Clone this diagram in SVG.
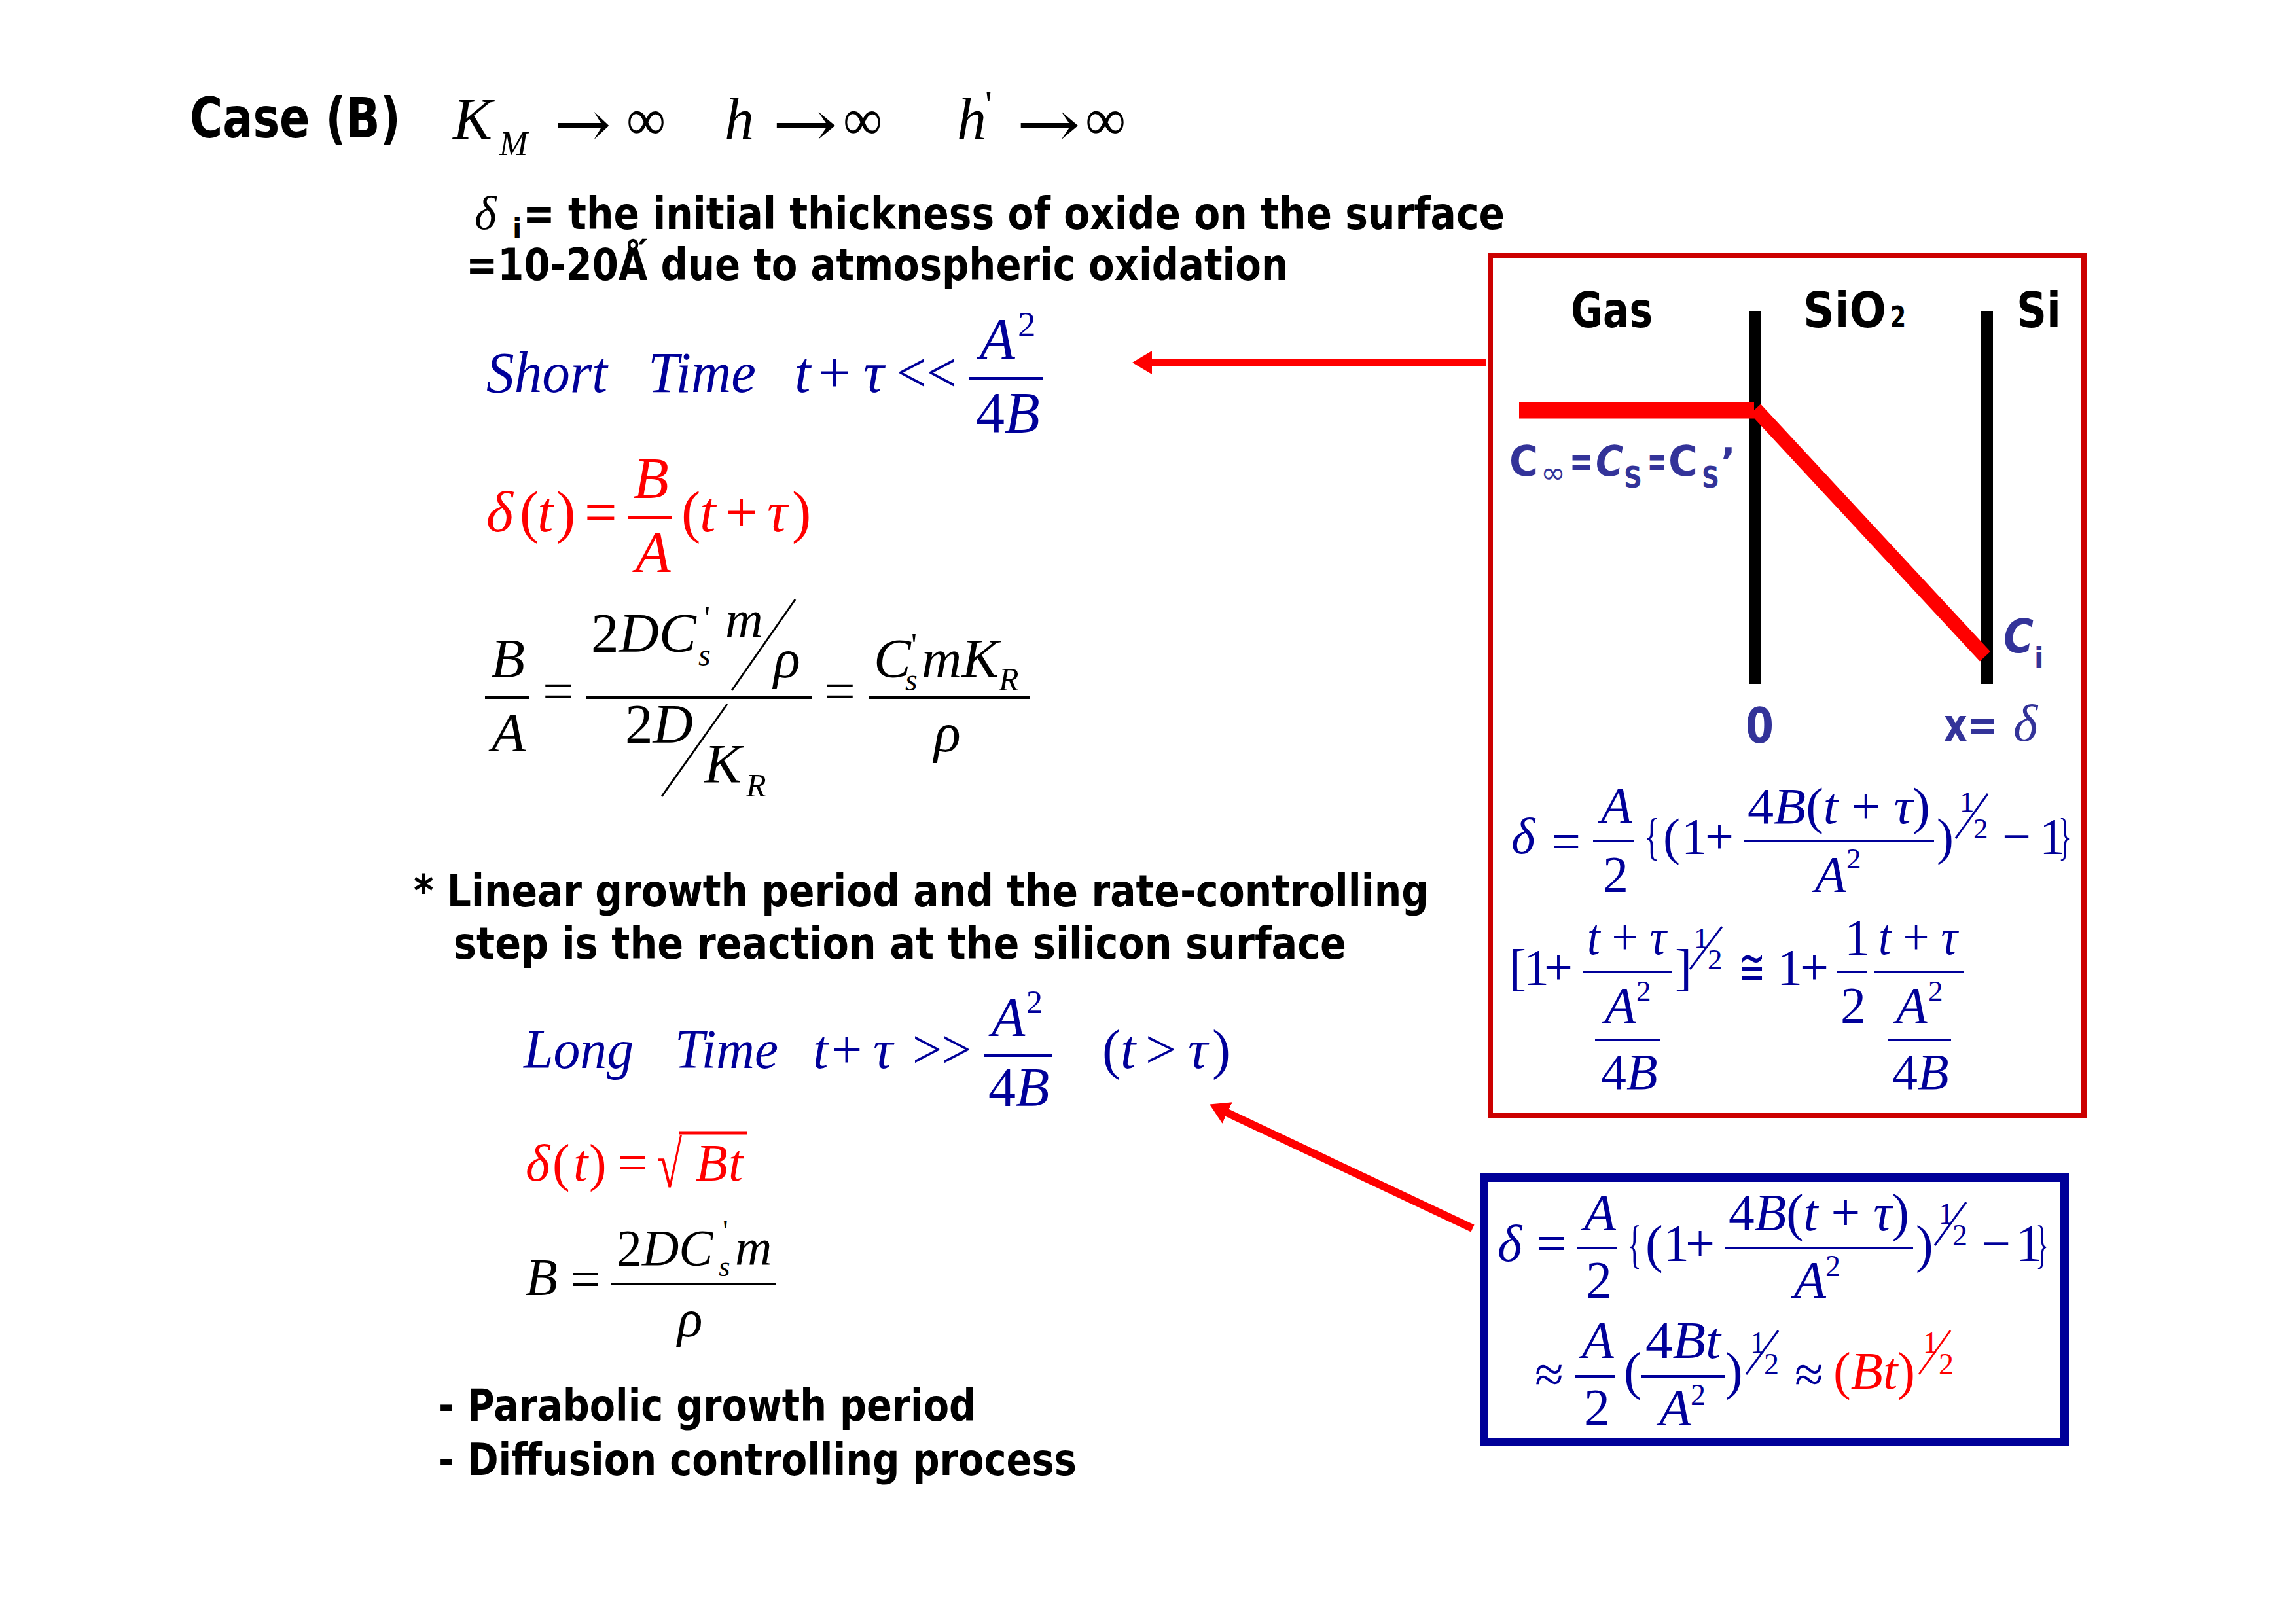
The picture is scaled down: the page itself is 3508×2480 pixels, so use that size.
<svg xmlns="http://www.w3.org/2000/svg" width="3508" height="2480" viewBox="0 0 3508 2480">
<defs>
<style>
.cs{font-family:"DejaVu Sans","Liberation Sans",sans-serif;font-weight:bold}
.m{font-family:"Liberation Serif","Times New Roman","DejaVu Serif",serif}
.ar{font-family:"DejaVu Serif","DejaVu Sans",serif}
.it{font-style:italic}
.nv{fill:#000099}
.rd{fill:#ff0000}
.bk{fill:#000000}
.lb{fill:#333399}
.bar{fill:none;stroke-width:4}
.bn{stroke:#000099}
.br{stroke:#ff0000}
.bb{stroke:#000000}
.sl{fill:none;stroke-width:3}
.conn{stroke:#ff0000;stroke-width:12;fill:none;marker-end:url(#ah)}
</style>
<marker id="ah" markerUnits="userSpaceOnUse" markerWidth="30" markerHeight="36" viewBox="0 0 30 36" refX="8" refY="18" orient="auto">
<path d="M0,0 L30,18 L0,36 z" fill="#ff0000"/>
</marker>
</defs>
<rect width="3508" height="2480" fill="#ffffff"/>

<g id="title">
<text class="cs bk" x="290" y="210" font-size="86" textLength="322" lengthAdjust="spacingAndGlyphs">Case (B)</text>
<g class="m bk" font-size="90">
<text class="it" x="692" y="213">K</text>
<text class="it" x="763" y="237" font-size="52">M</text>
<text class="ar" x="846" y="224" font-size="100" textLength="88" lengthAdjust="spacingAndGlyphs">→</text>
<text x="957" y="213" textLength="60" lengthAdjust="spacingAndGlyphs">∞</text>
<text class="it" x="1107" y="213">h</text>
<text class="ar" x="1180" y="224" font-size="100" textLength="100" lengthAdjust="spacingAndGlyphs">→</text>
<text x="1288" y="213" textLength="60" lengthAdjust="spacingAndGlyphs">∞</text>
<text class="it" x="1462" y="213">h</text>
<text x="1505" y="180" font-size="60">'</text>
<text class="ar" x="1553" y="224" font-size="100" textLength="98" lengthAdjust="spacingAndGlyphs">→</text>
<text x="1658" y="213" textLength="62" lengthAdjust="spacingAndGlyphs">∞</text>
</g>
</g>

<g id="initial-oxide-note">
<text class="m it bk" x="725" y="350" font-size="72">δ</text>
<text class="cs bk" x="783" y="364" font-size="42">i</text>
<text class="cs bk" x="799" y="350" font-size="68" textLength="1500" lengthAdjust="spacingAndGlyphs">= the initial thickness of oxide on the surface</text>
<text class="cs bk" x="712" y="428" font-size="68" textLength="1256" lengthAdjust="spacingAndGlyphs">=10-20Ǻ due to atmospheric oxidation</text>
</g>

<g id="short-time" class="m nv" font-size="88">
<text class="it" x="743" y="599" textLength="185" lengthAdjust="spacingAndGlyphs">Short</text>
<text class="it" x="990" y="599" textLength="165" lengthAdjust="spacingAndGlyphs">Time</text>
<text class="it" x="1214" y="599">t</text>
<text x="1250" y="599">+</text>
<text class="it" x="1319" y="599">τ</text>
<text x="1370" y="599" textLength="92" lengthAdjust="spacingAndGlyphs">&lt;&lt;</text>
<line class="bar bn" x1="1481" y1="578" x2="1593" y2="578"/>
<text class="it" x="1497" y="547">A</text>
<text x="1555" y="514" font-size="55">2</text>
<text x="1491" y="660">4<tspan class="it">B</tspan></text>
</g>

<g id="short-time-thickness" class="m rd" font-size="88">
<text class="it" x="743" y="812">δ</text>
<text x="794" y="812">(</text>
<text class="it" x="821" y="812">t</text>
<text x="850" y="812">)</text>
<text x="893" y="812">=</text>
<line class="bar br" x1="960" y1="791" x2="1027" y2="791"/>
<text class="it" x="968" y="760">B</text>
<text class="it" x="971" y="873">A</text>
<text x="1041" y="812">(</text>
<text class="it" x="1069" y="812">t</text>
<text x="1108" y="812">+</text>
<text class="it" x="1172" y="812">τ</text>
<text x="1210" y="812">)</text>
</g>

<g id="linear-ratio" class="m bk" font-size="85">
<text class="it" x="750" y="1035">B</text>
<line class="bar bb" x1="741" y1="1066" x2="808" y2="1066"/>
<text class="it" x="751" y="1148">A</text>
<text x="829" y="1085">=</text>
<line class="bar bb" x1="895" y1="1066" x2="1241" y2="1066"/>
<text x="903" y="996">2<tspan class="it">DC</tspan></text>
<text class="it" x="1067" y="1017" font-size="48">s</text>
<text x="1076" y="961" font-size="50">'</text>
<text class="it" x="1108" y="973" font-size="80">m</text>
<line class="sl" stroke="#000" x1="1215" y1="916" x2="1118" y2="1055"/>
<text class="it" x="1182" y="1035">ρ</text>
<text x="955" y="1135">2<tspan class="it">D</tspan></text>
<line class="sl" stroke="#000" x1="1111" y1="1076" x2="1011" y2="1217"/>
<text class="it" x="1076" y="1196">K</text>
<text class="it" x="1140" y="1217" font-size="50">R</text>
<text x="1259" y="1085">=</text>
<line class="bar bb" x1="1327" y1="1066" x2="1574" y2="1066"/>
<text class="it" x="1335" y="1035">C</text>
<text class="it" x="1383" y="1055" font-size="48">s</text>
<text x="1392" y="1002" font-size="50">'</text>
<text class="it" x="1408" y="1035">mK</text>
<text class="it" x="1526" y="1055" font-size="50">R</text>
<text class="it" x="1427" y="1148">ρ</text>
</g>

<g id="linear-note" class="cs bk" font-size="68">
<text x="632" y="1385" textLength="1551" lengthAdjust="spacingAndGlyphs">* Linear growth period and the rate-controlling</text>
<text x="693" y="1465" textLength="1364" lengthAdjust="spacingAndGlyphs">step is the reaction at the silicon surface</text>
</g>

<g id="long-time" class="m nv" font-size="84">
<text class="it" x="800" y="1632" textLength="168" lengthAdjust="spacingAndGlyphs">Long</text>
<text class="it" x="1031" y="1632" textLength="158" lengthAdjust="spacingAndGlyphs">Time</text>
<text class="it" x="1242" y="1632">t</text>
<text x="1270" y="1632">+</text>
<text class="it" x="1334" y="1632">τ</text>
<text x="1394" y="1632" textLength="90" lengthAdjust="spacingAndGlyphs">&gt;&gt;</text>
<line class="bar bn" x1="1503" y1="1613" x2="1608" y2="1613"/>
<text class="it" x="1515" y="1583">A</text>
<text x="1568" y="1548" font-size="50">2</text>
<text x="1510" y="1690">4<tspan class="it">B</tspan></text>
<text x="1684" y="1632">(</text>
<text class="it" x="1712" y="1632">t</text>
<text x="1750" y="1632">&gt;</text>
<text class="it" x="1815" y="1632">τ</text>
<text x="1852" y="1632">)</text>
</g>

<g id="long-time-thickness" class="m rd" font-size="80">
<text class="it" x="803" y="1804">δ</text>
<text x="844" y="1804">(</text>
<text class="it" x="876" y="1804">t</text>
<text x="900" y="1804">)</text>
<text x="944" y="1804">=</text>
<text x="1004" y="1814" font-size="100" textLength="38" lengthAdjust="spacingAndGlyphs">√</text>
<line stroke="#ff0000" stroke-width="5" x1="1038" y1="1731" x2="1142" y2="1731"/>
<text class="it" x="1063" y="1804">B</text>
<text class="it" x="1113" y="1804">t</text>
</g>

<g id="parabolic-constant" class="m bk" font-size="80">
<text class="it" x="803" y="1979">B</text>
<text x="872" y="1982">=</text>
<line class="bar bb" x1="933" y1="1962" x2="1186" y2="1962"/>
<text x="942" y="1933" font-size="78">2<tspan class="it">DC</tspan></text>
<text class="it" x="1098" y="1950" font-size="45">s</text>
<text x="1104" y="1897" font-size="48">'</text>
<text class="it" x="1123" y="1933" font-size="78">m</text>
<text class="it" x="1035" y="2042">ρ</text>
</g>

<g id="parabolic-note" class="cs bk" font-size="68">
<text x="670" y="2171" textLength="821" lengthAdjust="spacingAndGlyphs">- Parabolic growth period</text>
<text x="670" y="2254" textLength="975" lengthAdjust="spacingAndGlyphs">- Diffusion controlling process</text>
</g>

<g id="red-box">
<rect x="2277" y="390" width="907" height="1315" fill="none" stroke="#cc0000" stroke-width="8"/>
<g class="cs bk">
<text x="2400" y="500" font-size="75" textLength="125" lengthAdjust="spacingAndGlyphs">Gas</text>
<text x="2755" y="500" font-size="75" textLength="127" lengthAdjust="spacingAndGlyphs">SiO</text>
<text x="2888" y="500" font-size="45" textLength="24" lengthAdjust="spacingAndGlyphs">2</text>
<text x="3081" y="500" font-size="75" textLength="68" lengthAdjust="spacingAndGlyphs">Si</text>
</g>
<line x1="2682" y1="475" x2="2682" y2="1045" stroke="#000" stroke-width="18"/>
<line x1="3036" y1="475" x2="3036" y2="1045" stroke="#000" stroke-width="18"/>
<line x1="2321" y1="627" x2="2680" y2="627" stroke="#ff0000" stroke-width="25"/>
<line x1="2682" y1="625" x2="3033" y2="1003" stroke="#ff0000" stroke-width="22"/>
<g class="cs lb">
<text x="2306" y="727" font-size="64" textLength="44" lengthAdjust="spacingAndGlyphs">C</text>
<text x="2354" y="738" font-size="46" font-weight="normal" textLength="38" lengthAdjust="spacingAndGlyphs">∞</text>
<text x="2398" y="727" font-size="64" textLength="36" lengthAdjust="spacingAndGlyphs">=</text>
<text class="it" x="2438" y="727" font-size="64" textLength="42" lengthAdjust="spacingAndGlyphs">C</text>
<text x="2481" y="745" font-size="44" textLength="28" lengthAdjust="spacingAndGlyphs">S</text>
<text x="2517" y="727" font-size="64" textLength="29" lengthAdjust="spacingAndGlyphs">=</text>
<text x="2549" y="727" font-size="64" textLength="45" lengthAdjust="spacingAndGlyphs">C</text>
<text x="2600" y="745" font-size="44" textLength="27" lengthAdjust="spacingAndGlyphs">S</text>
<text x="2629" y="727" font-size="60">’</text>
<text class="it" x="3061" y="997" font-size="72" textLength="46" lengthAdjust="spacingAndGlyphs">C</text>
<text x="3108" y="1020" font-size="42">i</text>
<text x="2667" y="1135" font-size="75" textLength="43" lengthAdjust="spacingAndGlyphs">0</text>
<text x="2970" y="1132" font-size="70" textLength="82" lengthAdjust="spacingAndGlyphs">x=</text>
</g>
<text class="m it lb" x="3076" y="1132" font-size="80">δ</text>

<g class="m nv" font-size="78">
<text class="it" x="2309" y="1304">δ</text>
<text x="2371" y="1312">=</text>
<line class="bar bn" x1="2434" y1="1285" x2="2497" y2="1285"/>
<text class="it" x="2446" y="1256">A</text>
<text x="2449" y="1362">2</text>
<text x="2512" y="1305" textLength="24" lengthAdjust="spacingAndGlyphs">{</text>
<text x="2541" y="1305">(</text>
<text x="2569" y="1304">1</text>
<text x="2605" y="1304">+</text>
<line class="bar bn" x1="2664" y1="1285" x2="2955" y2="1285"/>
<text x="2670" y="1258" textLength="279" lengthAdjust="spacingAndGlyphs">4<tspan class="it">B</tspan>(<tspan class="it">t</tspan> + <tspan class="it">τ</tspan>)</text>
<text class="it" x="2773" y="1362">A</text>
<text x="2821" y="1327" font-size="45">2</text>
<text x="2959" y="1305">)</text>
<text x="2994" y="1240" font-size="45">1</text>
<line class="sl" stroke="#000099" x1="3037" y1="1213" x2="2988" y2="1281"/>
<text x="3015" y="1281" font-size="45">2</text>
<text x="3059" y="1304">−</text>
<text x="3116" y="1304">1</text>
<text x="3145" y="1305" textLength="20" lengthAdjust="spacingAndGlyphs">}</text>

<text x="2306" y="1505">[</text>
<text x="2328" y="1504">1</text>
<text x="2359" y="1504">+</text>
<line class="bar bn" x1="2418" y1="1485" x2="2555" y2="1485"/>
<text x="2425" y="1458" textLength="121" lengthAdjust="spacingAndGlyphs"><tspan class="it">t</tspan> + <tspan class="it">τ</tspan></text>
<text class="it" x="2452" y="1562">A</text>
<text x="2500" y="1529" font-size="45">2</text>
<line class="sl bn" x1="2437" y1="1589" x2="2537" y2="1589"/>
<text x="2446" y="1664">4<tspan class="it">B</tspan></text>
<text x="2559" y="1505">]</text>
<text x="2588" y="1448" font-size="45">1</text>
<line class="sl" stroke="#000099" x1="2631" y1="1416" x2="2582" y2="1481"/>
<text x="2609" y="1481" font-size="45">2</text>
<text x="2656" y="1505" textLength="41" lengthAdjust="spacingAndGlyphs">≅</text>
<text x="2715" y="1504">1</text>
<text x="2750" y="1504">+</text>
<line class="bar bn" x1="2806" y1="1485" x2="2852" y2="1485"/>
<text x="2818" y="1458">1</text>
<text x="2812" y="1562">2</text>
<line class="bar bn" x1="2864" y1="1485" x2="3000" y2="1485"/>
<text x="2870" y="1458" textLength="121" lengthAdjust="spacingAndGlyphs"><tspan class="it">t</tspan> + <tspan class="it">τ</tspan></text>
<text class="it" x="2897" y="1562">A</text>
<text x="2946" y="1529" font-size="45">2</text>
<line class="sl bn" x1="2884" y1="1589" x2="2981" y2="1589"/>
<text x="2891" y="1664">4<tspan class="it">B</tspan></text>
</g>
</g>

<g id="blue-box">
<rect x="2267.5" y="1799.5" width="887" height="404" fill="none" stroke="#000099" stroke-width="13"/>
<g class="m nv" font-size="80">
<text class="it" x="2288" y="1927">δ</text>
<text x="2348" y="1927">=</text>
<line class="bar bn" x1="2409" y1="1907" x2="2471" y2="1907"/>
<text class="it" x="2420" y="1880">A</text>
<text x="2423" y="1983">2</text>
<text x="2487" y="1928" textLength="21" lengthAdjust="spacingAndGlyphs">{</text>
<text x="2514" y="1928">(</text>
<text x="2541" y="1927">1</text>
<text x="2575" y="1927">+</text>
<line class="bar bn" x1="2635" y1="1907" x2="2923" y2="1907"/>
<text x="2641" y="1880" textLength="276" lengthAdjust="spacingAndGlyphs">4<tspan class="it">B</tspan>(<tspan class="it">t</tspan> + <tspan class="it">τ</tspan>)</text>
<text class="it" x="2741" y="1983">A</text>
<text x="2789" y="1950" font-size="46">2</text>
<text x="2927" y="1928">)</text>
<text x="2962" y="1870" font-size="46">1</text>
<line class="sl" stroke="#000099" x1="3004" y1="1837" x2="2956" y2="1903"/>
<text x="2983" y="1903" font-size="46">2</text>
<text x="3027" y="1927">−</text>
<text x="3080" y="1927">1</text>
<text x="3110" y="1928" textLength="20" lengthAdjust="spacingAndGlyphs">}</text>

<text x="2345" y="2127">≈</text>
<line class="bar bn" x1="2406" y1="2103" x2="2468" y2="2103"/>
<text class="it" x="2417" y="2075">A</text>
<text x="2420" y="2178">2</text>
<text x="2481" y="2122">(</text>
<line class="bar bn" x1="2508" y1="2103" x2="2635" y2="2103"/>
<text x="2514" y="2075" textLength="115" lengthAdjust="spacingAndGlyphs">4<tspan class="it">Bt</tspan></text>
<text class="it" x="2535" y="2178">A</text>
<text x="2583" y="2147" font-size="46">2</text>
<text x="2636" y="2122">)</text>
<text x="2674" y="2067" font-size="46">1</text>
<line class="sl" stroke="#000099" x1="2717" y1="2033" x2="2668" y2="2100"/>
<text x="2695" y="2100" font-size="46">2</text>
<text x="2742" y="2127">≈</text>
<text class="rd" x="2801" y="2122" textLength="125" lengthAdjust="spacingAndGlyphs">(<tspan class="it">Bt</tspan>)</text>
<text class="rd" x="2938" y="2067" font-size="46">1</text>
<line class="sl" stroke="#ff0000" x1="2980" y1="2033" x2="2932" y2="2100"/>
<text class="rd" x="2962" y="2100" font-size="46">2</text>
</g>
</g>

<g id="connectors">
<line class="conn" x1="2270" y1="554" x2="1752" y2="554"/>
<line class="conn" x1="2250" y1="1877" x2="1868" y2="1697"/>
</g>
</svg>
